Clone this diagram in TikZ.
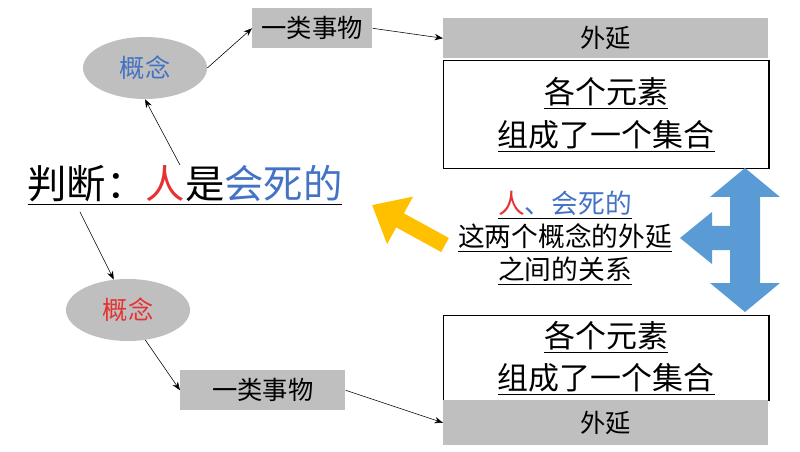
\documentclass[tikz,border=0pt]{standalone}
\usepackage{fontspec}
\setmainfont{Noto Sans CJK SC}
\usetikzlibrary{shapes.geometric,arrows.meta}
\definecolor{cblue}{RGB}{68,114,196}
\definecolor{cred}{RGB}{230,50,50}
\definecolor{cgray}{RGB}{191,191,191}
\definecolor{cyel}{RGB}{255,192,0}
\definecolor{carr}{RGB}{91,155,213}
\tikzset{
  concept/.style={ellipse, fill=cgray, minimum width=3.1cm, minimum height=1.55cm, font=\fontsize{18}{21}\selectfont},
  graybox/.style={fill=cgray, anchor=north west, inner sep=0pt, font=\fontsize{18}{21}\selectfont},
  setbox/.style={draw, line width=1pt, anchor=north west, inner sep=0pt, align=center, font=\fontsize{22}{30}\selectfont},
  link/.style={-{Stealth[length=6pt]}, thin}
}
\begin{document}
\begin{tikzpicture}[x=0.025cm, y=-0.025cm]
  \useasboundingbox (0,0) rectangle (800,452);

  %% Upper part
  \node[concept, text=cblue] (c1) at (145,68) {概念};
  \node[graybox, minimum width=3cm, minimum height=1cm] (t1) at (252,8) {一类事物};
  \node[graybox, minimum width=8.125cm, minimum height=1cm] (e1) at (443,18) {外延};
  \node[setbox, minimum width=8.125cm, minimum height=2.7cm] (s1) at (443,60)
    {\underline{各个元素}\\\underline{组成了一个集合}};
  \draw[link] (c1.east) -- (t1.west);
  \draw[link] (t1.east) -- (e1.west);

  %% Judgment
  \node[font=\fontsize{28}{32}\selectfont] (j) at (185,185)
    {\underline{判断：\textcolor{cred}{人}是\textcolor{cblue}{会死的}}};
  \coordinate (j1) at (180,165);
  \coordinate (j2) at (80,212);
  \draw[link] (j1) -- (c1.south);

  %% Lower part
  \node[concept, text=cred] (c2) at (128,310) {概念};
  \node[graybox, minimum width=4.125cm, minimum height=1cm] (t2) at (180,370) {一类事物};
  \node[setbox, minimum width=8.125cm, minimum height=2.125cm] (s2) at (443,315)
    {\underline{各个元素}\\\underline{组成了一个集合}};
  \node[graybox, minimum width=8.125cm, minimum height=1.125cm] (e2) at (443,400) {外延};
  \draw[link] (j2) -- (c2.115);
  \draw[link] (c2.-60) -- (t2.west);
  \draw[link] (t2.east) -- (e2.west);

  %% Relation
  \node[align=center, font=\fontsize{19}{23.5}\selectfont] (r) at (565,238)
    {\underline{\textcolor{cred}{人}\textcolor{cblue}{、会死的}}\\\underline{这两个概念的外延}\\\underline{之间的关系}};
  \coordinate (y1) at (445,245);
  \coordinate (y2) at (372,205);
  \draw[cyel, line width=0.4cm, -{Triangle[length=0.8cm, width=1.3cm]}] (y1) -- (y2);
  \fill[carr] (745,168) -- (780,197) -- (760,197) -- (760,283) -- (780,283) -- (745,312)
    -- (710,283) -- (730,283) -- (730,250) -- (712,250) -- (712,264) -- (680,238)
    -- (712,212) -- (712,226) -- (730,226) -- (730,197) -- (710,197) -- cycle;
\end{tikzpicture}
\end{document}
